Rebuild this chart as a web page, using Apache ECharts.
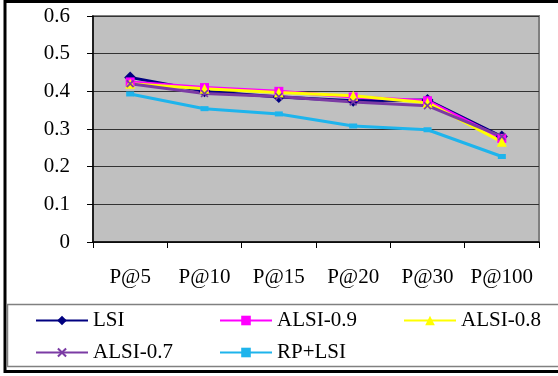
<!DOCTYPE html>
<html><head><meta charset="utf-8">
<script src="https://cdn.jsdelivr.net/npm/echarts@6/dist/echarts.min.js"></script>
<style>html,body{margin:0;padding:0;background:#fff}#c{width:558px;height:376px}</style>
</head><body><div id="c"></div>
<script>
var categories = ['P@5','P@10','P@15','P@20','P@30','P@100'];
var seriesNames = ['LSI','ALSI-0.9','ALSI-0.8','ALSI-0.7','RP+LSI'];
var lsi     = [0.437, 0.400, 0.385, 0.375, 0.377, 0.280];
var alsi09  = [0.425, 0.410, 0.400, 0.385, 0.375, 0.275];
var alsi08  = [0.420, 0.407, 0.397, 0.388, 0.370, 0.266];
var alsi07  = [0.420, 0.394, 0.386, 0.372, 0.362, 0.280];
var rplsi   = [0.393, 0.354, 0.340, 0.308, 0.298, 0.227];
var yTicks  = [0, 0.1, 0.2, 0.3, 0.4, 0.5, 0.6];

var FONT = 'Liberation Serif';
var FS = 21;
var xPath = 'path://M0,1.5L1.5,0L5,3.5L8.5,0L10,1.5L6.5,5L10,8.5L8.5,10L5,6.5L1.5,10L0,8.5L3.5,5Z';
var styles = [
  {color:'#000080', symbol:'diamond', size:12},
  {color:'#FF00FF', symbol:'rect', size:9},
  {color:'#FFFF00', symbol:'triangle', size:10},
  {color:'#7B3BA4', symbol:xPath, size:8},
  {color:'#1EB4EC', symbol:'rect', size:[8,5]}
];
var datas = [lsi, alsi09, alsi08, alsi07, rplsi];

var series = seriesNames.map(function(n,i){
  return {
    name:n, type:'line', data:datas[i],
    symbol:styles[i].symbol, symbolSize:styles[i].size,
    lineStyle:{color:styles[i].color, width:3},
    itemStyle:{color:styles[i].color},
    emphasis:{disabled:true}, animation:false
  };
});

var legendPos = [
  {left:35, top:310}, {left:219, top:310}, {left:403, top:310},
  {left:35, top:342}, {left:219, top:342}
];
var legends = seriesNames.map(function(n,i){
  return {
    data:[n], left:legendPos[i].left, top:legendPos[i].top,
    itemWidth:52, itemHeight:12, itemGap:0, padding:0,
    textStyle:{fontFamily:FONT, fontSize:FS, color:'#000', padding:[0,0,0,0]},
    selectedMode:false
  };
});

var chart = echarts.init(document.getElementById('c'), null, {renderer:'canvas'});
chart.setOption({
  animation:false,
  backgroundColor:'#fff',
  grid:{left:93, right:19, top:16, bottom:134, show:true, backgroundColor:'#C0C0C0', borderColor:'#808080', borderWidth:2},
  xAxis:{
    type:'category', data:categories, boundaryGap:true,
    axisLine:{lineStyle:{color:'#000', width:1.5}},
    axisTick:{show:true, length:6, interval:0, alignWithLabel:false, lineStyle:{color:'#000'}},
    axisLabel:{fontFamily:FONT, fontSize:FS, color:'#000', margin:25, interval:0, hideOverlap:false}
  },
  yAxis:{
    type:'value', min:0, max:0.6, interval:0.1,
    axisLine:{show:true, lineStyle:{color:'#000', width:1.5}},
    axisTick:{show:true, length:6, lineStyle:{color:'#000'}},
    axisLabel:{fontFamily:FONT, fontSize:FS, color:'#000', margin:23,
      formatter:function(v){ var t = yTicks.filter(function(y){return Math.abs(y-v)<1e-9;}); return t.length? String(t[0]) : ''; }},
    splitLine:{lineStyle:{color:'#333', width:1}}
  },
  legend:legends,
  graphic:[
    {type:'rect', shape:{x:5, y:1.5, width:560, height:370}, style:{fill:null, stroke:'#000', lineWidth:3}, silent:true},
    {type:'rect', shape:{x:7.5, y:304.5, width:560, height:62}, style:{fill:null, stroke:'#808080', lineWidth:1.5}, silent:true}
  ],
  series:series
});
</script>
</body></html>
